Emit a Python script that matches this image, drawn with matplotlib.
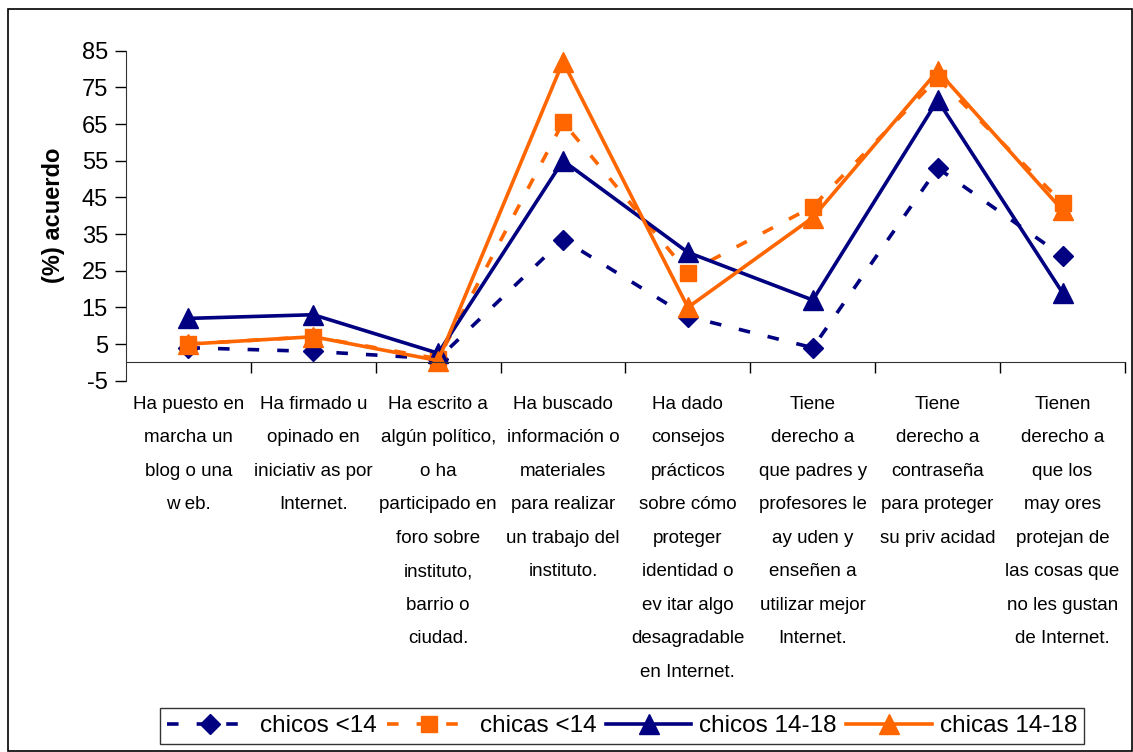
import numpy as np
import matplotlib
matplotlib.use("Agg")
import matplotlib.pyplot as plt
from matplotlib.patches import Rectangle

plt.rcParams['font.family'] = ['Liberation Sans', 'DejaVu Sans']
plt.rcParams['axes.unicode_minus'] = False

# category texts (one string per line of the axis label)
categorias = [
    ["Ha puesto en", "marcha un", "blog o una", "w eb."],
    ["Ha firmado u", "opinado en", "iniciativ as por", "Internet."],
    ["Ha escrito a", "algún político,", "o ha", "participado en",
     "foro sobre", "instituto,", "barrio o", "ciudad."],
    ["Ha buscado", "información o", "materiales", "para realizar",
     "un trabajo del", "instituto."],
    ["Ha dado", "consejos", "prácticos", "sobre cómo", "proteger",
     "identidad o", "ev itar algo", "desagradable", "en Internet."],
    ["Tiene", "derecho a", "que padres y", "profesores le", "ay uden y",
     "enseñen a", "utilizar mejor", "Internet."],
    ["Tiene", "derecho a", "contraseña", "para proteger", "su priv acidad"],
    ["Tienen", "derecho a", "que los", "may ores", "protejan de",
     "las cosas que", "no les gustan", "de Internet."],
]

# % de acuerdo por grupo
chicos_menor14 = [4, 3, 1, 33.5, 12.5, 4, 53, 29]
chicas_menor14 = [5, 7, 1, 65.5, 24.5, 42.5, 77.5, 43.5]
chicos_14_18 = [12, 13, 2.5, 55, 30, 17, 71.5, 19]
chicas_14_18 = [5, 7, 0.5, 82, 15, 39.5, 79.5, 41.5]

yticks = [-5, 5, 15, 25, 35, 45, 55, 65, 75, 85]

navy = '#000080'
naranja = '#FF6600'

fig = plt.figure(figsize=(11.33, 7.52), dpi=100)
ax = fig.add_axes([0.1112, 0.4937, 0.8817, 0.4389])

x = np.arange(1, len(categorias) + 1)

ax.plot(x, chicos_menor14, color=navy, lw=2.6, ls=(0, (3.2, 5)),
        marker='D', ms=10, label='chicos <14')
ax.plot(x, chicas_menor14, color=naranja, lw=2.6, ls=(0, (3.2, 5)),
        marker='s', ms=11, label='chicas <14')
ax.plot(x, chicos_14_18, color=navy, lw=2.6, marker='^', ms=14,
        label='chicos 14-18')
ax.plot(x, chicas_14_18, color=naranja, lw=2.6, marker='^', ms=15,
        label='chicas 14-18')

ax.set_xlim(0.5, len(categorias) + 0.5)
ax.set_ylim(-5, 85)
ax.set_yticks(yticks)
ax.tick_params(axis='y', direction='out', length=8, width=1, labelsize=17,
               pad=5)

# x axis drawn through zero, ticks between categories
ax.spines['top'].set_visible(False)
ax.spines['right'].set_visible(False)
ax.spines['bottom'].set_position(('data', 0))
ax.spines['bottom'].set_color('#333333')
ax.spines['left'].set_color('#333333')
ax.set_xticks(np.arange(1.5, len(categorias) + 1, 1.0))
ax.set_xticklabels([])
ax.tick_params(axis='x', which='major', direction='out', length=8, width=1)
ax.set_xticks(x, minor=True)
ax.set_xticklabels(['\n'.join(c) for c in categorias], minor=True)
ax.tick_params(axis='x', which='minor', length=0, pad=24, labelsize=13.5)
for t in ax.get_xticklabels(minor=True):
    t.set_linespacing(2.27)
    t.set_verticalalignment('top')

ax.set_ylabel('(%) acuerdo', fontsize=17, fontweight='bold', labelpad=12)

fig.legend(loc='center', bbox_to_anchor=(0.549, 0.0345), ncol=4,
           fontsize=17.5, frameon=True, fancybox=False, edgecolor='black',
           handlelength=3.5, handletextpad=0.33, columnspacing=0.4,
           borderpad=0.3, borderaxespad=0)
fig.legends[0].get_frame().set_linewidth(1)

# outer chart border
fig.patches.append(Rectangle((0.007, 0.001), 0.992, 0.987,
                             transform=fig.transFigure, fill=False,
                             edgecolor='black', lw=1.2))

fig.savefig('out.png', dpi=100)
